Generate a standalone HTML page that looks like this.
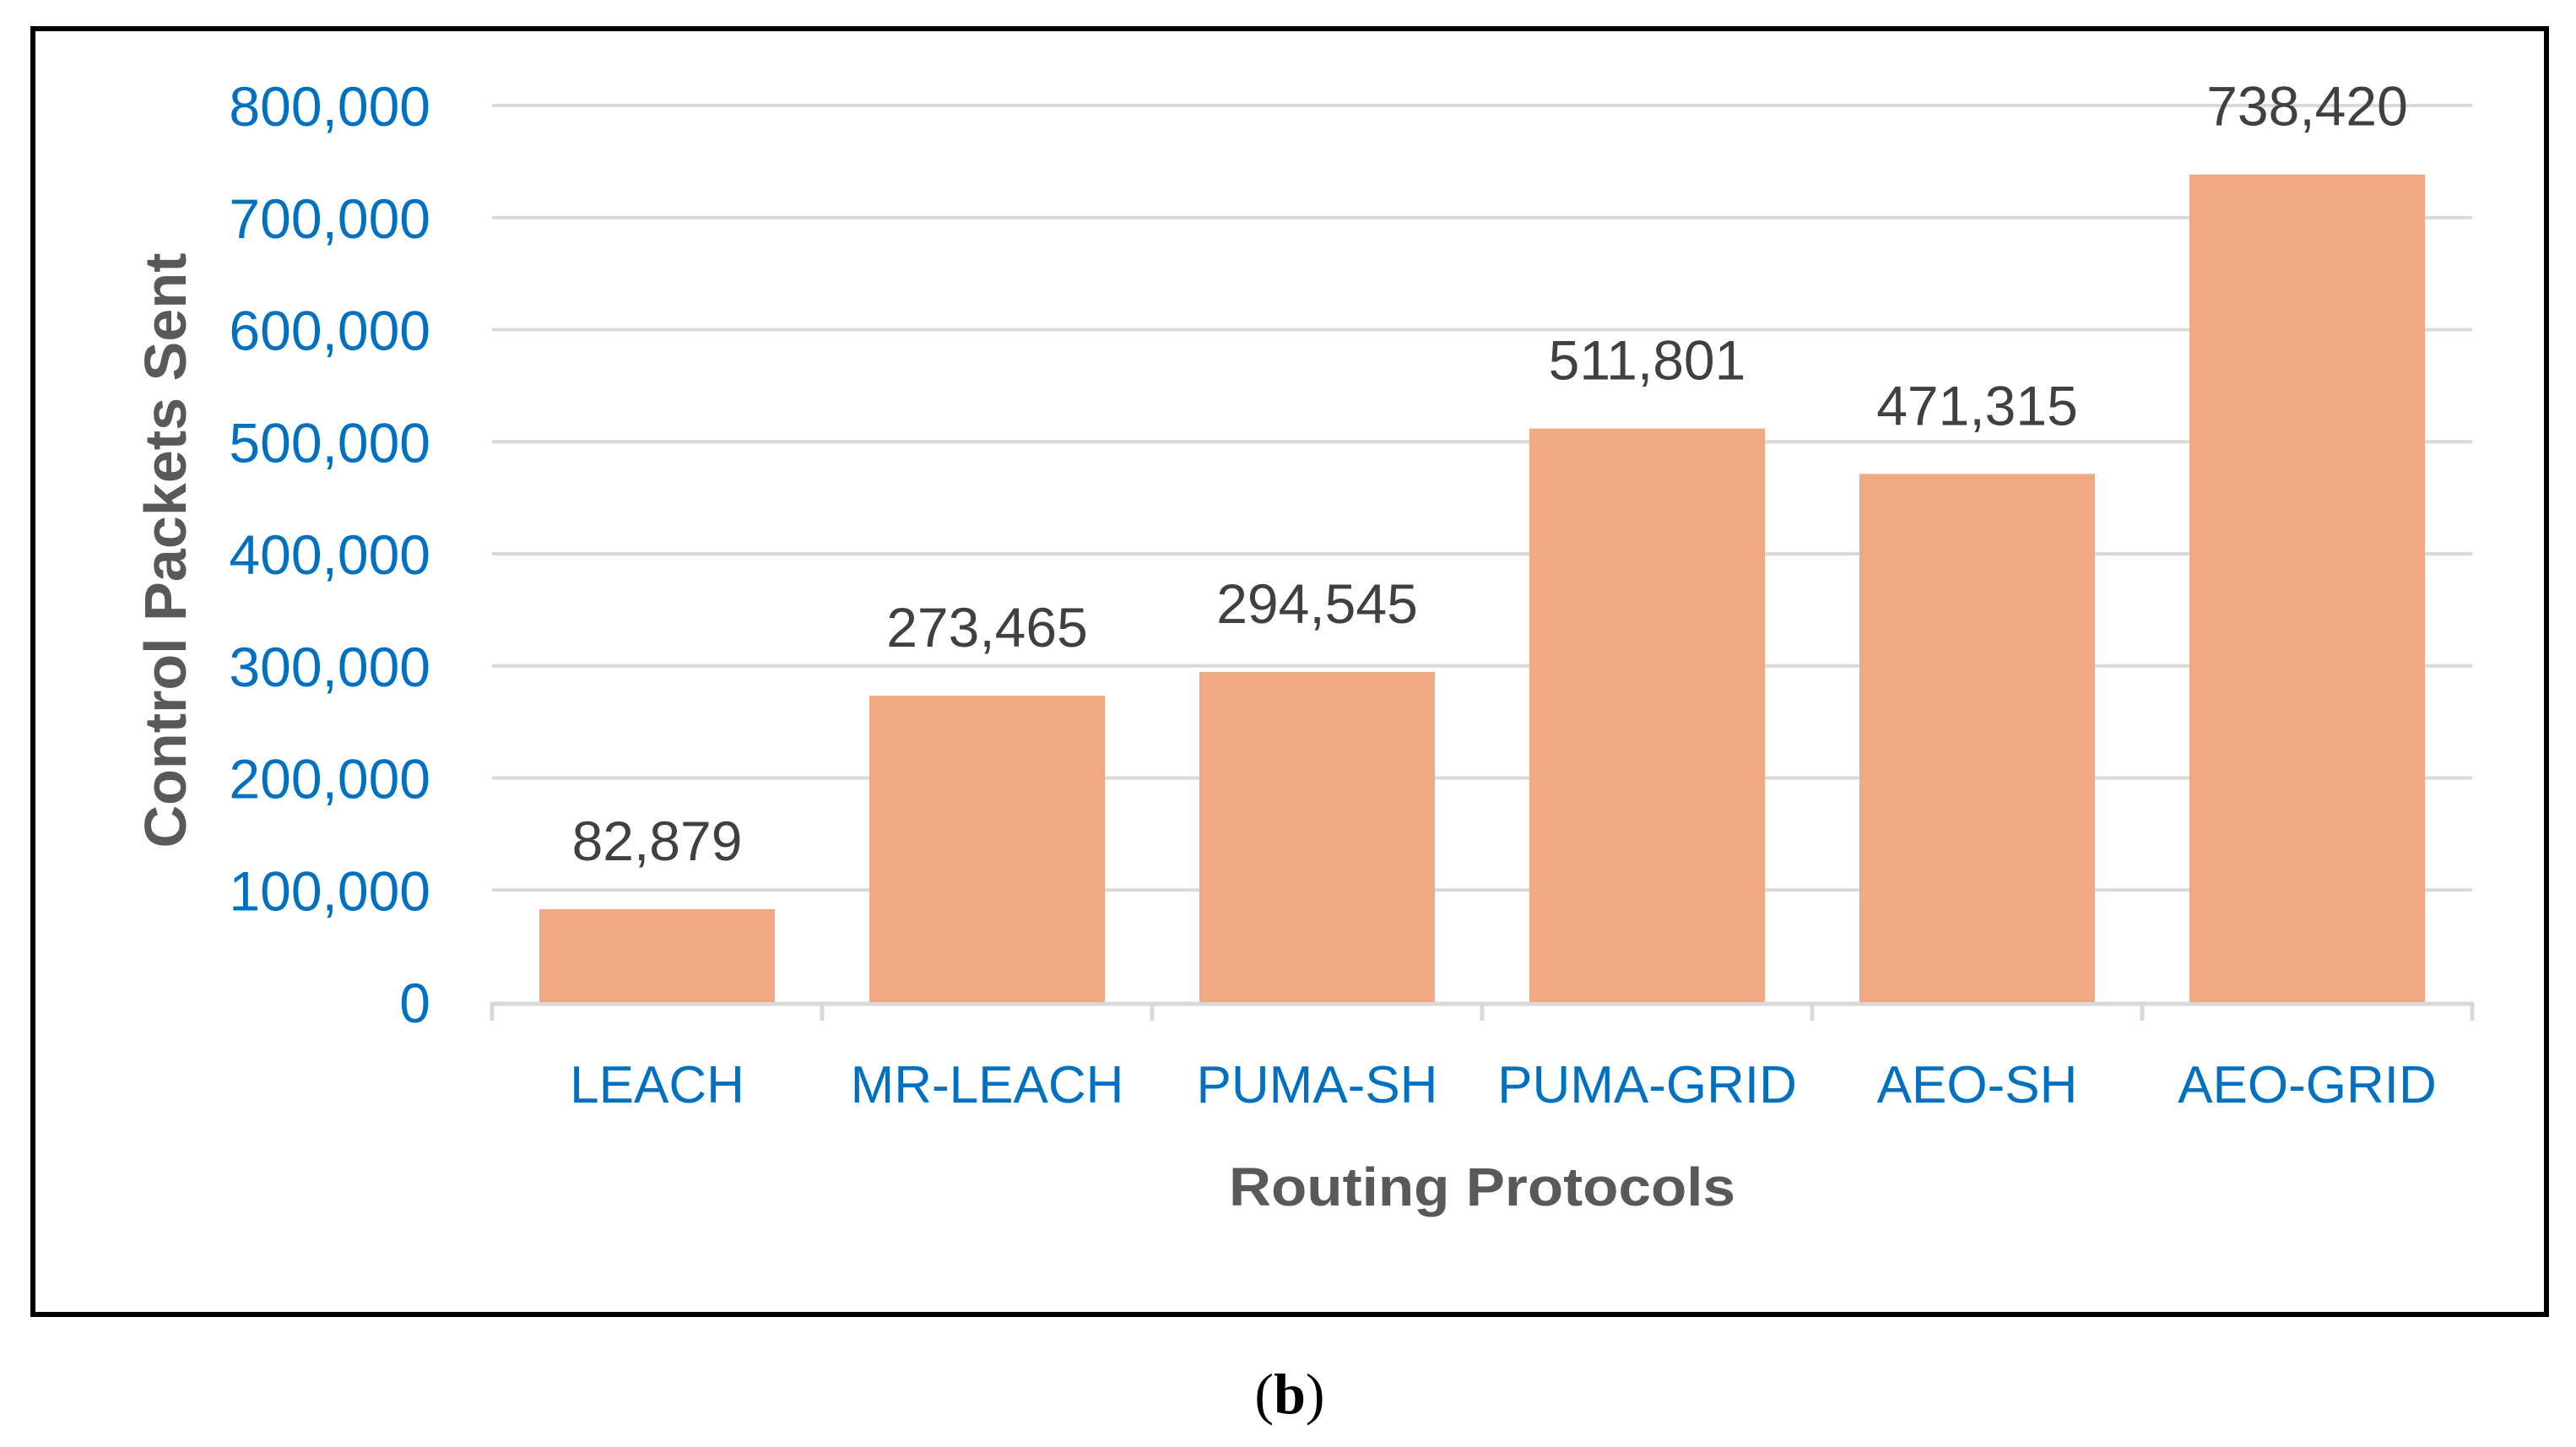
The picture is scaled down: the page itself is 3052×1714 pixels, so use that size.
<!DOCTYPE html>
<html><head><meta charset="utf-8"><style>
html,body{margin:0;padding:0;background:#fff;}
svg{display:block;}
</style></head><body>
<svg id="chart" width="3052" height="1714" viewBox="0 0 3052 1714" xmlns="http://www.w3.org/2000/svg">
<rect x="39" y="34" width="2978" height="1523" fill="#fff" stroke="#000" stroke-width="6"/>
<g id="grid"></g>
<g id="bars"></g>
<g id="labels"></g>
<text transform="translate(220,652) rotate(-90)" text-anchor="middle" font-family="Liberation Sans, sans-serif" font-weight="bold" font-size="70" fill="#595959" textLength="705" lengthAdjust="spacingAndGlyphs">Control Packets Sent</text>
<text x="1756" y="1428" text-anchor="middle" font-family="Liberation Sans, sans-serif" font-weight="bold" font-size="64" fill="#595959" textLength="600" lengthAdjust="spacingAndGlyphs">Routing Protocols</text>
<text x="1528" y="1674" text-anchor="middle" font-family="Liberation Serif, serif" font-size="68" fill="#000">(<tspan font-weight="bold">b</tspan>)</text>
</svg>
<script>
const categories = ["LEACH","MR-LEACH","PUMA-SH","PUMA-GRID","AEO-SH","AEO-GRID"];
const values = [82879,273465,294545,511801,471315,738420];
const valueLabels = ["82,879","273,465","294,545","511,801","471,315","738,420"];
const yTicks = [0,100000,200000,300000,400000,500000,600000,700000,800000];
const yTickLabels = ["0","100,000","200,000","300,000","400,000","500,000","600,000","700,000","800,000"];

const NS="http://www.w3.org/2000/svg";
const left=583,right=2929,y0=1187,yTop=125,yMax=800000;
const bandW=(right-left)/categories.length, barW=279;
function yScale(v){return y0-(v/yMax)*(y0-yTop);}
function xCenter(i){return left+bandW*(i+0.5);}
function mk(tag,attrs,parent){const e=document.createElementNS(NS,tag);for(const k in attrs)e.setAttribute(k,attrs[k]);parent.appendChild(e);return e;}
const grid=document.getElementById('grid'),bars=document.getElementById('bars'),labels=document.getElementById('labels');
yTicks.forEach((t,i)=>{
  const y=yScale(t);
  if(t>0){const l=mk('line',{x1:left,x2:right,y1:y,y2:y,stroke:'#d9d9d9','stroke-width':4},grid);
  
  }
  const tx=mk('text',{x:510,y:y+24,'text-anchor':'end','font-family':'Liberation Sans, sans-serif','font-size':66,fill:'#0070c0'},labels);
  tx.textContent=yTickLabels[i];
  
  
});
const ax=mk('line',{x1:left,x2:right,y1:y0+2,y2:y0+2,stroke:'#d9d9d9','stroke-width':5},grid);


for(let i=0;i<=categories.length;i++){
  const x=left+bandW*i;
  const tk=mk('line',{x1:x,x2:x,y1:y0,y2:y0+22,stroke:'#d9d9d9','stroke-width':5},grid);
  
  
}
categories.forEach((c,i)=>{
  const cx=xCenter(i), y=yScale(values[i]);
  const r=mk('rect',{x:cx-barW/2,y:y,width:barW,height:y0-y,fill:'#f1a983'},bars);
  
  
  const v=mk('text',{x:cx,y:y-58,'text-anchor':'middle','font-family':'Liberation Sans, sans-serif','font-size':66,fill:'#404040'},labels);
  v.textContent=valueLabels[i];
  
  
  const cl=mk('text',{x:cx,y:1306,'text-anchor':'middle','font-family':'Liberation Sans, sans-serif','font-size':62,fill:'#0070c0'},labels);
  cl.textContent=c;
  
  
});
</script>
</body></html>
